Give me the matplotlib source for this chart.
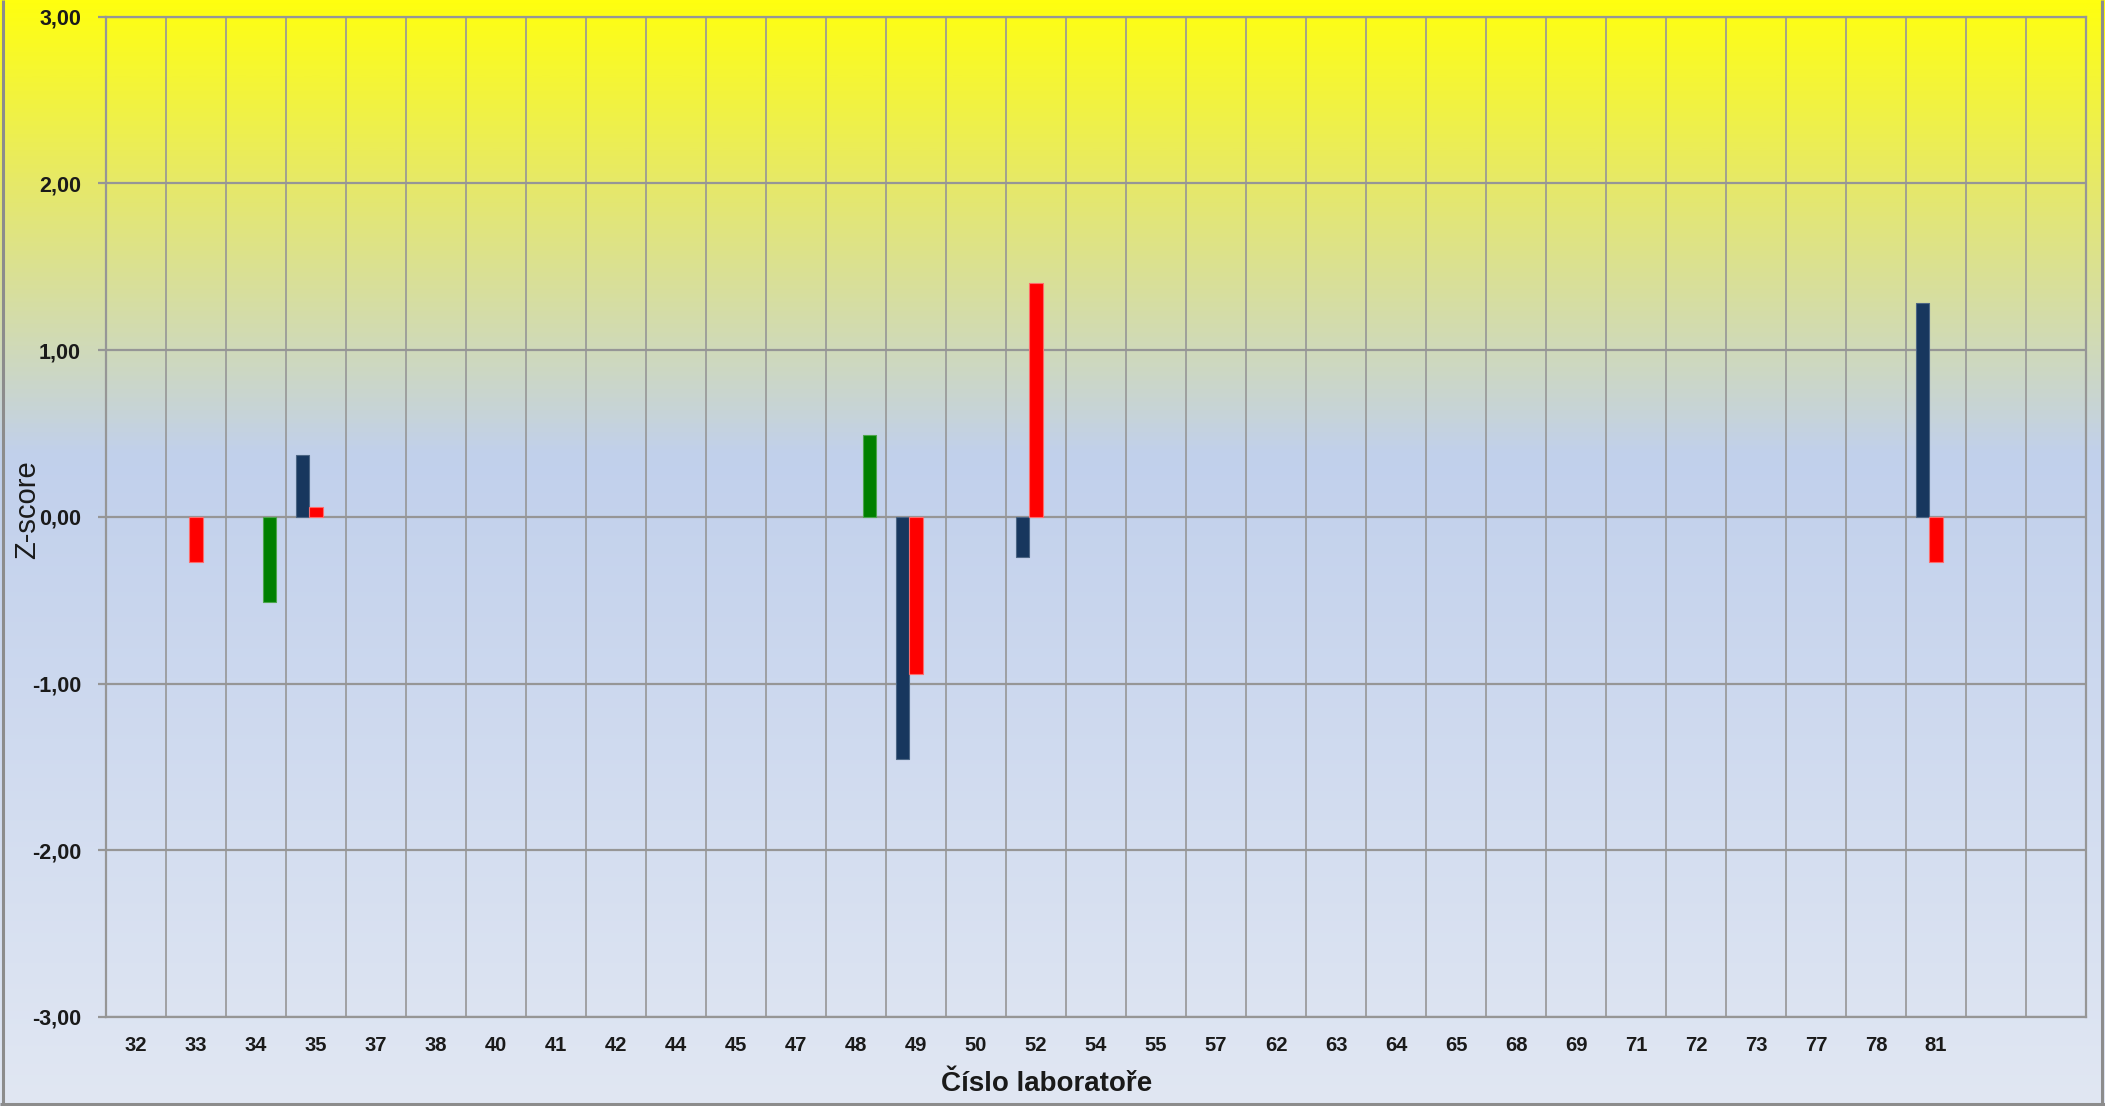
import numpy as np
import matplotlib
matplotlib.use("Agg")
import matplotlib.pyplot as plt
from matplotlib import font_manager
from matplotlib.colors import LinearSegmentedColormap
from matplotlib.ticker import FuncFormatter, FixedLocator

# ---- data ----
labs = ["32", "33", "34", "35", "37", "38", "40", "41", "42", "44", "45", "47",
        "48", "49", "50", "52", "54", "55", "57", "62", "63", "64", "65", "68",
        "69", "71", "72", "73", "77", "78", "81", "", ""]
blue_vals = {"35": 0.37, "49": -1.45, "52": -0.24, "81": 1.28}
red_vals = {"33": -0.27, "35": 0.06, "49": -0.94, "52": 1.40, "81": -0.27}
green_vals = {"34": -0.51, "48": 0.49}
y_ticks = [-3, -2, -1, 0, 1, 2, 3]

names = [f.name for f in font_manager.fontManager.ttflist]
narrow = "Liberation Sans Narrow" if "Liberation Sans Narrow" in names else "Liberation Sans"
base = "Liberation Sans"

W, H, DPI = 2105, 1106, 100
fig = plt.figure(figsize=(W / DPI, H / DPI), dpi=DPI)

# background gradient for whole figure
bg = fig.add_axes([0, 0, 1, 1], zorder=0)
bg.set_axis_off()
cmap = LinearSegmentedColormap.from_list(
    "bg", [(0.0, (1.0, 1.0, 0.06)), (0.17, (0.90, 0.91, 0.42)),
           (0.41, (0.757, 0.816, 0.925)), (1.0, (0.882, 0.906, 0.953))])
grad = np.linspace(0, 1, 512).reshape(-1, 1)
bg.imshow(grad, aspect="auto", cmap=cmap, extent=[0, 1, 0, 1], origin="upper")
bg.set_xlim(0, 1)
bg.set_ylim(0, 1)
# figure border (left, right, bottom)
bc = "#8c8c8c"
bg.plot([0.0016, 0.0016], [0, 1], color=bc, lw=2.2, solid_capstyle="butt")
bg.plot([0.9985, 0.9985], [0, 1], color=bc, lw=2.2, solid_capstyle="butt")
bg.plot([0, 1], [0.0014, 0.0014], color=bc, lw=2.2, solid_capstyle="butt")

ax = fig.add_axes([106 / W, 1 - 1017 / H, (2086 - 106) / W, (1017 - 16.7) / H], zorder=1)
ax.patch.set_alpha(0)

x = np.arange(len(labs))
w = 0.22
def series(d):
    return np.array([d.get(l, np.nan) if l else np.nan for l in labs])

for vals, off, col, ec in [(series(blue_vals), -w, "#17375E", "#4b6584"),
                           (series(red_vals), 0.0, "#FF0000", "#ff6b6b"),
                           (series(green_vals), w, "#008000", "#4da64d")]:
    m = ~np.isnan(vals)
    ax.bar(x[m] + off, vals[m], width=w, color=col, edgecolor=ec, linewidth=0.8, zorder=3)

ax.set_xlim(-0.5, len(labs) - 0.5)
ax.set_ylim(-3, 3)
ax.set_yticks(y_ticks)
ax.yaxis.set_major_formatter(FuncFormatter(lambda v, p: f"{v:.2f}".replace(".", ",")))
ax.set_xticks(x)
ax.set_xticklabels(labs)
ax.xaxis.set_minor_locator(FixedLocator(np.arange(-0.5, len(labs), 1.0)))

gc = "#969696"
ax.grid(which="minor", axis="x", color=gc, lw=1.2, zorder=1)
ax.grid(which="major", axis="y", color=gc, lw=1.6, zorder=1)
ax.set_axisbelow(True)
for s in ax.spines.values():
    s.set_color(gc)
    s.set_linewidth(1.6)

ax.tick_params(axis="x", which="both", length=0, pad=14)
ax.tick_params(axis="y", length=6, width=1.6, color=gc, pad=12)
for t in ax.get_xticklabels():
    t.set_fontfamily(narrow)
    t.set_fontweight("bold")
    t.set_fontsize(14.5)
    t.set_color("#1a1a1a")
for t in ax.get_yticklabels():
    t.set_fontfamily(base)
    t.set_fontweight("bold")
    t.set_fontsize(15.5)
    t.set_color("#1a1a1a")

fig.text(27 / W, 1 - 510 / H, "Z-score", rotation=90, ha="center", va="center",
         fontsize=21, fontfamily=base, color="#1a1a1a")
fig.text(1047 / W, 1 - 1084 / H, "Číslo laboratoře", ha="center", va="center",
         fontsize=20, fontfamily=narrow, fontweight="bold", color="#1a1a1a")

fig.savefig("out.png", dpi=DPI)
